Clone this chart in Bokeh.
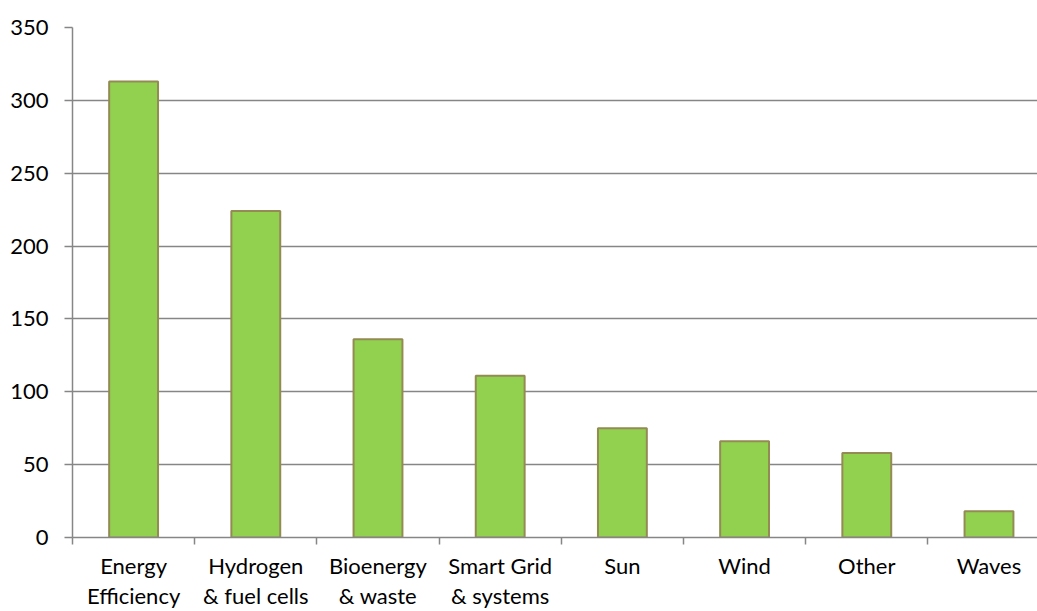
from bokeh.plotting import figure
from bokeh.models import Range1d, FixedTicker
from bokeh.embed import file_html
from bokeh.resources import INLINE

categories = ["Energy\nEfficiency", "Hydrogen\n& fuel cells", "Bioenergy\n& waste",
              "Smart Grid\n& systems", "Sun", "Wind", "Other", "Waves"]
values = [313, 224, 136, 111, 75, 66, 58, 18]
y_ticks = [0, 50, 100, 150, 200, 250, 300, 350]

n = len(categories)
centers = [i + 0.5 for i in range(n)]

p = figure(width=1037, height=611, output_backend="svg", toolbar_location=None,
           x_range=Range1d(0, 7.897), y_range=Range1d(0, 350),
           min_border_left=72, min_border_right=0, min_border_top=27, min_border_bottom=74)
p.outline_line_color = None
p.background_fill_color = "white"
p.border_fill_color = "white"

p.vbar(x=centers, top=values, width=0.4, bottom=0,
       fill_color="#92D050", line_color="#948A54", line_width=2)

# y axis
p.yaxis.ticker = FixedTicker(ticks=y_ticks)
p.yaxis.axis_line_color = "#868686"
p.yaxis.axis_line_width = 1.5
p.yaxis.major_tick_line_color = "#868686"
p.yaxis.major_tick_line_width = 1.5
p.yaxis.major_tick_out = 8
p.yaxis.major_tick_in = 0
p.yaxis.minor_tick_line_color = None
p.yaxis.major_label_text_font = "Lato"
p.yaxis.major_label_text_font_size = "22px"
p.yaxis.major_label_text_color = "black"
p.yaxis.major_label_standoff = 16

# x axis: boundary ticks (minor), labels at category centres
p.xaxis.ticker = FixedTicker(ticks=centers, minor_ticks=list(range(0, n + 1)))
p.xaxis.major_label_overrides = {c: lab for c, lab in zip(centers, categories)}
p.xaxis.axis_line_color = "#868686"
p.xaxis.axis_line_width = 1.5
p.xaxis.major_tick_line_color = None
p.xaxis.major_tick_out = 0
p.xaxis.major_tick_in = 0
p.xaxis.minor_tick_line_color = "#868686"
p.xaxis.minor_tick_line_width = 1.5
p.xaxis.minor_tick_out = 7
p.xaxis.minor_tick_in = 0
p.xaxis.major_label_text_font = "Lato"
p.xaxis.major_label_text_font_size = "22px"
p.xaxis.major_label_text_color = "black"
p.xaxis.major_label_text_line_height = 1.12
p.xaxis.major_label_standoff = 7

p.xgrid.grid_line_color = None
p.ygrid.grid_line_color = "#868686"
p.ygrid.grid_line_width = 1.5

open("out.html", "w").write(file_html(p, INLINE))
